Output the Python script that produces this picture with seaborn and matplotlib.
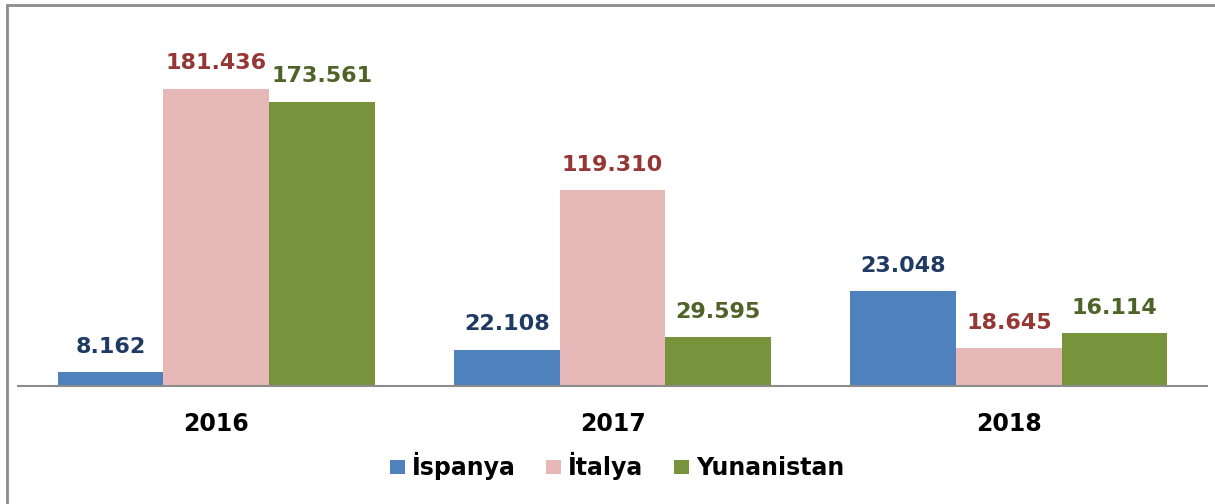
import pandas as pd
import seaborn as sns
import matplotlib.pyplot as plt
from matplotlib.lines import Line2D

years = ['2016', '2017', '2018']
countries = ['İspanya', 'İtalya', 'Yunanistan']

# printed values
ispanya = [8162, 22108, 23048]
italya = [181436, 119310, 18645]
yunanistan = [173561, 29595, 16114]

# bar heights as drawn in the picture (2018 bars are not to scale with their labels)
ispanya_bar = [8162, 22108, 57850]
italya_bar = [181436, 119310, 22850]
yunanistan_bar = [173561, 29595, 32010]

bar_colors = ['#4F81BD', '#E6B9B8', '#77933C']
label_colors = ['#1F3B64', '#953735', '#4F6228']

df = pd.DataFrame({
    'year': years * 3,
    'country': [c for c in countries for _ in years],
    'height': ispanya_bar + italya_bar + yunanistan_bar,
})
printed = [ispanya, italya, yunanistan]

sns.set_style('white')
plt.rcParams['font.family'] = ['DejaVu Sans']

fig = plt.figure(figsize=(12.15, 5.04), dpi=100)
ax = fig.add_axes([18 / 1215, 118.3 / 504, 1189 / 1215, 366 / 504])

sns.barplot(data=df, x='year', y='height', hue='country', order=years,
            hue_order=countries, palette=bar_colors, width=0.8,
            saturation=1, linewidth=0, ax=ax, legend=True)

for cont, col, vals in zip(ax.containers, label_colors, printed):
    labels = [f"{v:,}".replace(',', '.') for v in vals]
    ax.bar_label(cont, labels=labels, padding=11, color=col,
                 fontsize=16, fontweight='bold')

ax.set_xlim(-0.5, 2.5)
ax.set_ylim(0, 223600)
ax.set_xlabel('')
ax.set_ylabel('')
ax.set_yticks([])
ax.tick_params(axis='x', length=0, pad=19, labelsize=17, labelcolor='black')
for lab in ax.get_xticklabels():
    lab.set_fontweight('bold')
for side in ['top', 'right', 'left']:
    ax.spines[side].set_visible(False)
ax.spines['bottom'].set_color('#8C8C8C')
ax.spines['bottom'].set_linewidth(1.5)

leg = ax.legend(loc='center', bbox_to_anchor=(617 / 1215, 1 - 466 / 504),
                bbox_transform=fig.transFigure, ncol=3, frameon=False,
                handlelength=0.64, handleheight=0.55, handletextpad=0.3,
                columnspacing=1.27, labelcolor='black',
                prop={'weight': 'bold', 'size': 17})

# outer frame (left and top edges visible)
fig.add_artist(Line2D([7 / 1215, 7 / 1215], [0, 1 - 5 / 504],
                      transform=fig.transFigure, color='#8C8C8C', lw=2))
fig.add_artist(Line2D([7 / 1215, 1], [1 - 5 / 504, 1 - 5 / 504],
                      transform=fig.transFigure, color='#8C8C8C', lw=2))

fig.savefig('out.png', dpi=100)
